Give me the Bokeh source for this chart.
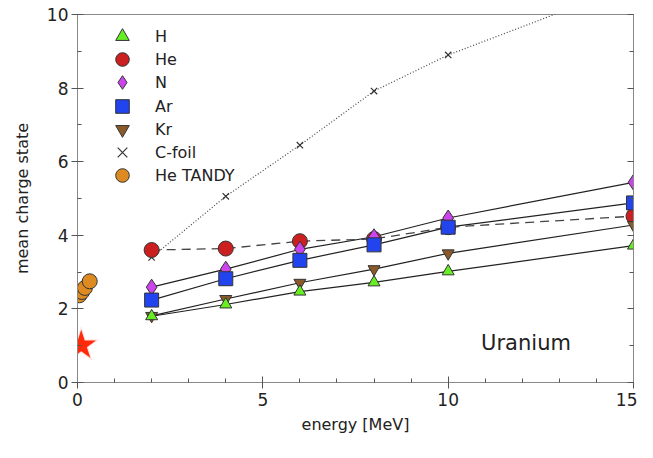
from bokeh.plotting import figure
from bokeh.models import Range1d, LinearAxis, Legend, LegendItem, FixedTicker, Label
from bokeh.embed import file_html
from bokeh.resources import INLINE

energy = [2, 4, 6, 8, 10, 15]
H = [1.80, 2.12, 2.47, 2.72, 3.02, 3.72]
He = [3.60, 3.64, 3.84, 3.90, 4.22, 4.52]
N = [2.59, 3.08, 3.62, 3.96, 4.47, 5.44]
Ar = [2.24, 2.82, 3.32, 3.74, 4.22, 4.88]
Kr = [1.81, 2.27, 2.71, 3.08, 3.51, 4.28]
Cfoil = [3.40, 5.06, 6.45, 7.92, 8.90, 10.82]
tandy_E = [0.05, 0.12, 0.20, 0.33]
tandy_Q = [2.37, 2.46, 2.57, 2.75]
star_E = [0.1]
star_Q = [1.01]
y_ticks = [0, 2, 4, 6, 8, 10]
x_ticks = [0, 5, 10, 15]
legend_labels = ["H", "He", "N", "Ar", "Kr", "C-foil", "He TANDY"]

FONT = "DejaVu Sans"
TOP, BOTTOM, HEIGHT = 14, 60, 442
FRAME_H = HEIGHT - TOP - BOTTOM

p = figure(width=637, height=HEIGHT, output_backend="svg", toolbar_location=None,
           x_range=Range1d(0, 15), y_range=Range1d(0, 10),
           min_border_left=77, min_border_right=4, min_border_top=TOP, min_border_bottom=BOTTOM)
p.grid.visible = False
p.outline_line_color = "#888888"
p.outline_line_width = 1

for ax in (p.xaxis[0], p.yaxis[0]):
    ax.axis_line_color = "#888888"
    ax.major_tick_line_color = "#555555"
    ax.minor_tick_line_color = "#555555"
    ax.major_tick_in = 6
    ax.major_tick_out = 6
    ax.minor_tick_in = 4
    ax.minor_tick_out = 0
    ax.major_label_text_font = FONT
    ax.major_label_text_font_size = "17px"
    ax.major_label_text_color = "#222222"
    ax.axis_label_text_font = FONT
    ax.axis_label_text_font_size = "16px"
    ax.axis_label_text_font_style = "normal"
    ax.axis_label_text_color = "#222222"

p.xaxis[0].ticker = FixedTicker(ticks=x_ticks, minor_ticks=list(range(0, 16)))
p.yaxis[0].ticker = FixedTicker(ticks=y_ticks, minor_ticks=list(range(0, 11)))
p.xaxis[0].axis_label = "energy [MeV]"
p.yaxis[0].axis_label = "mean charge state"
p.xaxis[0].major_label_standoff = 4
p.yaxis[0].major_label_standoff = 3
p.xaxis[0].axis_label_standoff = 6
p.yaxis[0].axis_label_standoff = 12

r_ax = LinearAxis(ticker=FixedTicker(ticks=y_ticks, minor_ticks=list(range(0, 11))),
                  major_label_overrides={t: "" for t in y_ticks}, axis_line_color="#888888",
                  major_tick_in=6, major_tick_out=0, minor_tick_in=4, minor_tick_out=0,
                  major_tick_line_color="#555555", minor_tick_line_color="#555555")
p.add_layout(r_ax, "right")

# lines
for ys in (H, N, Ar, Kr):
    p.line(energy, ys, line_color="#222222", line_width=1.2)
p.line(energy, He, line_color="#444444", line_width=1.3, line_dash="9 6")
p.line(energy, Cfoil, line_color="#444444", line_width=1.2, line_dash="1 2")

# markers
r_cf = p.scatter(energy, Cfoil, marker="x", size=9, line_color="#333333", line_width=1.2)
r_he = p.scatter(energy, He, marker="circle", size=15, fill_color="#cc2020", line_color="#333333")
r_n = p.scatter(energy, N, marker="diamond", size=16, fill_color="#cc44ee", line_color="#333333")
r_ar = p.scatter(energy, Ar, marker="square", size=14, fill_color="#2244ee", line_color="#333333")
r_kr = p.scatter(energy, Kr, marker="inverted_triangle", size=12, fill_color="#8b5a2b", line_color="#333333")
r_h = p.scatter(energy, H, marker="triangle", size=12, fill_color="#66ee22", line_color="#333333")
r_td = p.scatter(tandy_E, tandy_Q, marker="circle", size=15, fill_color="#dd8a22", line_color="#333333")
p.scatter(star_E, star_Q, marker="star", size=38, fill_color="#ff6644", fill_alpha=0.2, line_color=None)
p.scatter(star_E, star_Q, marker="star", size=31, fill_color="#ff2a0a", line_color=None)

# one single-item legend per entry so the legend markers can be large while rows stay tight
GLYPH = 34
ROW = 23.2
FIRST = 22
for i, (lab, r) in enumerate(zip(legend_labels, [r_h, r_he, r_n, r_ar, r_kr, r_cf, r_td])):
    bottom = FRAME_H - (FIRST + ROW * i) - GLYPH / 2
    lg = Legend(items=[LegendItem(label=lab, renderers=[r])], location=(28, int(round(bottom))),
                border_line_color=None, background_fill_alpha=0,
                label_text_font=FONT, label_text_font_size="16px", label_text_color="#222222",
                glyph_width=GLYPH, glyph_height=GLYPH, label_standoff=16, padding=0, margin=0,
                spacing=0)
    p.add_layout(lg, "center")

p.add_layout(Label(x=12.1, y=0.75, text="Uranium", text_align="center",
                   text_font=FONT, text_font_size="21px", text_color="#222222"))

open("out.html", "w").write(file_html(p, INLINE))
